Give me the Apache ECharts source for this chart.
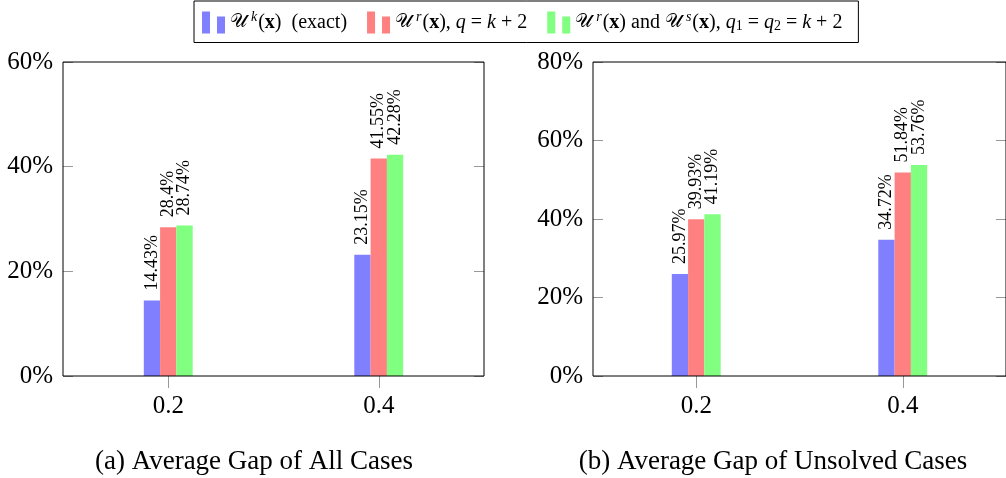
<!DOCTYPE html>
<html>
<head>
<meta charset="utf-8">
<script src="https://cdn.jsdelivr.net/npm/echarts@6/dist/echarts.min.js"></script>
<style>
  html, body { margin: 0; padding: 0; background: #fff; }
  #chart { width: 1006px; height: 478px; }
</style>
</head>
<body>
<div id="chart"></div>
<script>
// ---- data ----
const categories = ['0.2', '0.4'];
const seriesNames = ['exact', 'qr', 'qrs'];
const allExact = [14.43, 23.15];
const allR = [28.4, 41.55];
const allRS = [28.74, 42.28];
const unsolvedExact = [25.97, 34.72];
const unsolvedR = [39.93, 51.84];
const unsolvedRS = [41.19, 53.76];
const leftTicks = { min: 0, max: 60, interval: 20 };
const rightTicks = { min: 0, max: 80, interval: 20 };
const captions = ['(a) Average Gap of All Cases', '(b) Average Gap of Unsolved Cases'];

const colors = ['#8080ff', '#ff8080', '#80ff80'];
const FONT = 'Liberation Serif';

const legendTexts = {
  exact: '{u|\u{1D4B0}}{sup|k}{t|(}{b|x}{t|)  (exact)}',
  qr: '{u|\u{1D4B0}}{sup|r}{t|(}{b|x}{t|), }{i|q}{t| = }{i|k}{t| + 2}',
  qrs: '{u|\u{1D4B0}}{sup|r}{t|(}{b|x}{t|) and }{u|\u{1D4B0}}{sup|s}{t|(}{b|x}{t|), }{i|q}{sub|1}{t| = }{i|q}{sub|2}{t| = }{i|k}{t| + 2}'
};

const tickStyle = { lineStyle: { color: '#999', width: 1 } };

function makeAxes(gridIndex, ticks) {
  const x = [
    { type: 'category', gridIndex, data: categories, position: 'bottom',
      axisLine: { show: false },
      axisTick: Object.assign({ show: true, alignWithLabel: true, inside: false, length: 12 }, tickStyle),
      axisLabel: { show: true, fontFamily: FONT, fontSize: 25, color: '#000', margin: 18 } },
    { type: 'category', gridIndex, data: categories, position: 'top',
      axisLine: { show: false },
      axisTick: Object.assign({ show: true, alignWithLabel: true, inside: false, length: 12 }, tickStyle),
      axisLabel: { show: false } }
  ];
  const y = [
    { type: 'value', gridIndex, position: 'left', min: ticks.min, max: ticks.max, interval: ticks.interval,
      splitLine: { show: false }, axisLine: { show: false },
      axisTick: Object.assign({ show: true, inside: true, length: 10 }, tickStyle),
      axisLabel: { formatter: '{value}%', fontFamily: FONT, fontSize: 25, color: '#000', margin: 10 } },
    { type: 'value', gridIndex, position: 'right', min: ticks.min, max: ticks.max, interval: ticks.interval,
      splitLine: { show: false }, axisLine: { show: false },
      axisTick: Object.assign({ show: true, inside: true, length: 10 }, tickStyle),
      axisLabel: { show: false } }
  ];
  return { x, y };
}

const a0 = makeAxes(0, leftTicks);
const a1 = makeAxes(1, rightTicks);

function barSeries(name, data, colorIdx, xIdx, yIdx) {
  return {
    type: 'bar', name, data, xAxisIndex: xIdx, yAxisIndex: yIdx,
    barWidth: 16.3, barGap: '0%',
    itemStyle: { color: colors[colorIdx], borderWidth: 0 },
    label: { show: true, position: 'top', rotate: 90, align: 'left', verticalAlign: 'middle',
      distance: 10, formatter: '{c}%', fontFamily: FONT, fontSize: 18, color: '#000' },
    emphasis: { disabled: true },
    animation: false
  };
}

const richBase = {
  t: { fontFamily: FONT, fontSize: 20, color: '#000' },
  u: { fontFamily: 'DejaVu Serif', fontSize: 19, color: '#000' },
  b: { fontFamily: FONT, fontSize: 20, fontWeight: 'bold', color: '#000' },
  i: { fontFamily: FONT, fontSize: 20, fontStyle: 'italic', color: '#000' },
  sup: { fontFamily: FONT, fontSize: 14, fontStyle: 'italic', color: '#000', padding: [0, 1, 11, 4] },
  sub: { fontFamily: FONT, fontSize: 14, color: '#000', padding: [8, 0, 0, 0] }
};

const chart = echarts.init(document.getElementById('chart'), null, { renderer: 'canvas' });
chart.setOption({
  backgroundColor: '#fff',
  animation: false,
  legend: {
    left: 194, top: 1,
    padding: [9, 16, 9, 8],
    itemGap: 20,
    itemWidth: 23, itemHeight: 22,
    borderColor: '#000', borderWidth: 1,
    selectedMode: false,
    data: seriesNames.map(n => ({ name: n, icon: 'path://M0,0h8v22h-8zM15,5h8v17h-8z' })),
    formatter: n => legendTexts[n],
    textStyle: { fontFamily: FONT, fontSize: 20, color: '#000', rich: richBase }
  },
  grid: [
    { left: 63, top: 62, width: 421, height: 314, show: true, borderColor: '#000', borderWidth: 1, backgroundColor: 'transparent', z: 5 },
    { left: 593, top: 62, width: 421, height: 314, show: true, borderColor: '#000', borderWidth: 1, backgroundColor: 'transparent', z: 5 }
  ],
  xAxis: [...a0.x, ...a1.x],
  yAxis: [...a0.y, ...a1.y],
  series: [
    barSeries(seriesNames[0], allExact, 0, 0, 0),
    barSeries(seriesNames[1], allR, 1, 0, 0),
    barSeries(seriesNames[2], allRS, 2, 0, 0),
    barSeries(seriesNames[0], unsolvedExact, 0, 2, 2),
    barSeries(seriesNames[1], unsolvedR, 1, 2, 2),
    barSeries(seriesNames[2], unsolvedRS, 2, 2, 2)
  ],
  graphic: [
    { type: 'text', x: 254, y: 462, style: { text: captions[0], fontFamily: FONT, fontSize: 27, fill: '#000', align: 'center', verticalAlign: 'middle' } },
    { type: 'text', x: 773, y: 462, style: { text: captions[1], fontFamily: FONT, fontSize: 27, fill: '#000', align: 'center', verticalAlign: 'middle' } }
  ]
});
</script>
</body>
</html>
